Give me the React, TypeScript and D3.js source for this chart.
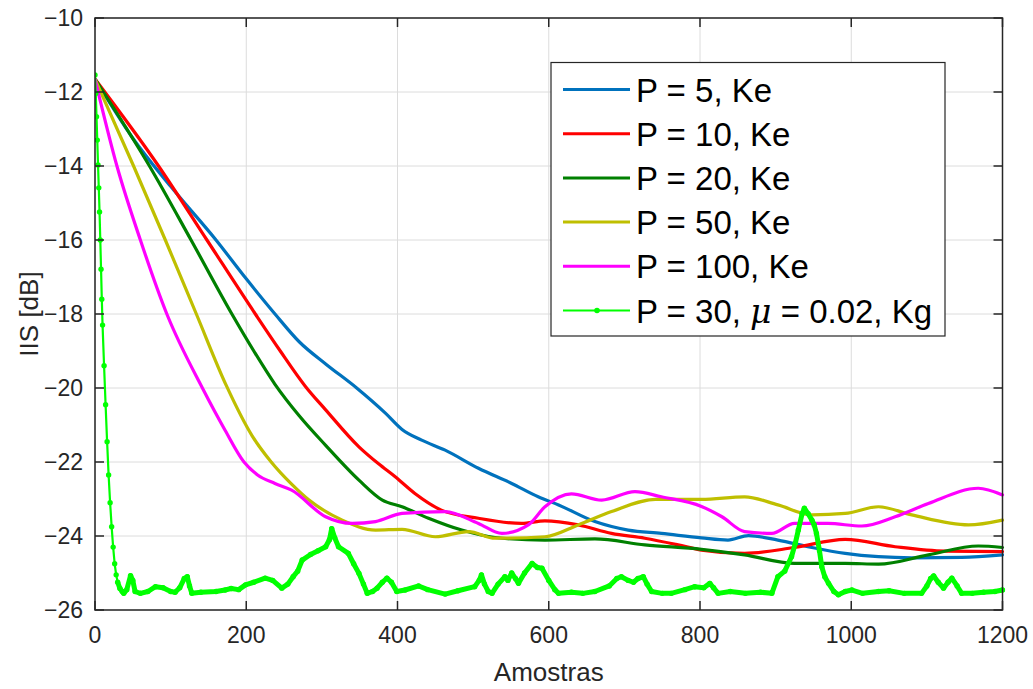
import React from "react";
import * as d3 from "d3";

// ---------- data ----------
const xTicks = [0, 200, 400, 600, 800, 1000, 1200];
const yTicks = [-26, -24, -22, -20, -18, -16, -14, -12, -10];

const p5Ke: [number, number][] = [
  [0, -11.65], [50, -13.25], [100, -14.55], [160, -16], [200, -17.05], [238, -18], [270, -18.75],
  [305, -19.35], [346, -20], [384, -20.68], [406, -21.12], [432, -21.41], [463, -21.68], [507, -22.17],
  [551, -22.58], [586, -22.94], [613, -23.16], [661, -23.61], [705, -23.84], [749, -23.93], [802, -24.05],
  [837, -24.11], [864, -23.99], [903, -24.11], [948, -24.31], [992, -24.47], [1036, -24.56], [1080, -24.59],
  [1146, -24.58], [1200, -24.51],
];
const p10Ke: [number, number][] = [
  [0, -11.65], [84, -14], [148, -16], [212, -18], [245, -19], [278, -19.95], [305, -20.59],
  [349, -21.59], [375, -22.05], [397, -22.4], [423, -22.85], [458, -23.3], [507, -23.52],
  [564, -23.66], [595, -23.59], [639, -23.7], [683, -23.93], [727, -24.06], [771, -24.24], [802, -24.38],
  [859, -24.47], [925, -24.31], [992, -24.09], [1058, -24.29], [1124, -24.41], [1200, -24.42],
];
const p20Ke: [number, number][] = [
  [0, -11.65], [72, -14], [127, -16], [181, -18], [210, -19.0], [238, -19.9], [270, -20.75],
  [305, -21.55], [349, -22.49], [380, -23.03], [406, -23.21], [441, -23.52], [485, -23.84], [529, -24.04],
  [595, -24.11], [661, -24.08], [727, -24.24], [802, -24.36], [859, -24.51], [925, -24.74], [992, -24.74],
  [1036, -24.76], [1102, -24.51], [1168, -24.27], [1200, -24.31],
];
const p50Ke: [number, number][] = [
  [0, -11.65], [51, -14], [93, -16], [134, -18], [174, -19.95], [208, -21.3], [233, -22], [260, -22.6],
  [283, -23.03], [327, -23.57], [371, -23.84], [406, -23.82], [450, -24.02], [494, -23.88], [529, -24.06],
  [595, -24.02], [639, -23.7], [683, -23.34], [741, -23.01], [802, -23.01], [859, -22.94], [903, -23.16],
  [948, -23.43], [992, -23.39], [1036, -23.21], [1080, -23.43], [1155, -23.7], [1200, -23.57],
];
const p100Ke: [number, number][] = [
  [0, -11.65], [29, -14], [60, -16], [95, -18], [142, -20], [172, -21.14], [197, -22],
  [215, -22.35], [238, -22.58], [260, -22.76], [305, -23.48], [340, -23.66], [371, -23.61], [406, -23.39],
  [463, -23.34], [507, -23.66], [538, -23.93], [573, -23.7], [595, -23.21], [630, -22.86], [670, -23.03],
  [714, -22.8], [749, -22.94], [802, -23.2], [829, -23.48], [859, -23.88], [895, -23.93], [925, -23.66],
  [969, -23.66], [1014, -23.73], [1058, -23.48], [1102, -23.12], [1168, -22.71], [1200, -22.89],
];
const p30Kg: [number, number][] = [
  [0, -11.54], [1, -12.04], [2, -12.67], [3, -13.3], [4, -13.97], [5, -14.59], [6, -15.24], [7, -16.0],
  [8, -16.79], [9, -17.6], [10, -18.3], [12, -19.4], [14, -20.45], [16, -21.45], [18, -22.35], [20, -23.1],
  [22, -23.75], [24, -24.3], [26, -24.75], [28, -25.05], [30, -25.25], [33, -25.42], [36, -25.5],
  [38, -25.55], [42, -25.45], [47, -25.07], [50, -25.2], [53, -25.5], [60, -25.55], [70, -25.5],
  [80, -25.37], [90, -25.4], [100, -25.5], [106, -25.52], [112, -25.4], [118, -25.15], [122, -25.1],
  [125, -25.35], [128, -25.55], [140, -25.52], [160, -25.5], [172, -25.46], [180, -25.42], [190, -25.45],
  [199, -25.32], [210, -25.25], [225, -25.14], [235, -25.2], [247, -25.41], [255, -25.3], [262, -25.1],
  [268, -24.95], [274, -24.65], [285, -24.5], [295, -24.4], [305, -24.29], [310, -24.1], [313, -23.8],
  [317, -24.05], [322, -24.29], [335, -24.47], [342, -24.75], [349, -25.01], [355, -25.3], [360, -25.55],
  [367, -25.5], [373, -25.41], [380, -25.25], [386, -25.14], [392, -25.25], [399, -25.5], [410, -25.46],
  [428, -25.35], [440, -25.45], [463, -25.57], [480, -25.48], [502, -25.37], [508, -25.2], [511, -25.05],
  [515, -25.3], [520, -25.5], [525, -25.55], [533, -25.3], [542, -25.1], [546, -25.2], [551, -25.0],
  [556, -25.15], [560, -25.28], [568, -25.0], [578, -24.74], [585, -24.85], [591, -24.87], [600, -25.2],
  [608, -25.45], [613, -25.55], [630, -25.52], [645, -25.55], [661, -25.5], [680, -25.35], [690, -25.15],
  [696, -25.1], [705, -25.2], [712, -25.25], [718, -25.15], [725, -25.1], [730, -25.3], [736, -25.5],
  [750, -25.55], [762, -25.55], [780, -25.45], [793, -25.37], [805, -25.4], [813, -25.28], [818, -25.4],
  [824, -25.55], [840, -25.5], [860, -25.55], [880, -25.52], [895, -25.55], [903, -25.1], [912, -24.95],
  [921, -24.56], [926, -24.2], [930, -23.84], [935, -23.4], [938, -23.25], [943, -23.4], [948, -23.57],
  [951, -23.7], [954, -23.93], [958, -24.4], [961, -24.83], [965, -25.1], [970, -25.28], [977, -25.5],
  [983, -25.59], [992, -25.5], [1001, -25.46], [1015, -25.55], [1036, -25.5], [1050, -25.48], [1070, -25.55],
  [1093, -25.55], [1100, -25.35], [1105, -25.15], [1109, -25.08], [1115, -25.25], [1122, -25.41],
  [1128, -25.25], [1133, -25.14], [1140, -25.35], [1146, -25.55], [1160, -25.55], [1175, -25.52],
  [1190, -25.5], [1200, -25.46],
];

const seriesKe = [
  { name: "P = 5, Ke", data: p5Ke, color: "#0072BD" },
  { name: "P = 10, Ke", data: p10Ke, color: "#FF0000" },
  { name: "P = 20, Ke", data: p20Ke, color: "#008000" },
  { name: "P = 50, Ke", data: p50Ke, color: "#BFBF00" },
  { name: "P = 100, Ke", data: p100Ke, color: "#FF00FF" },
];
const kgColor = "#00FF00";

// ---------- layout ----------
const W = 1033, H = 689;
const L = 95, R = 1002.5, T = 18, B = 610;
const FONT = "Arial, 'Liberation Sans', Helvetica, sans-serif";
const AX = "#262626";

export default function App() {
  const x = d3.scaleLinear().domain([0, 1200]).range([L, R]);
  const y = d3.scaleLinear().domain([-26, -10]).range([B, T]);
  const smooth = d3.line<[number, number]>().x(d => x(d[0])).y(d => y(d[1])).curve(d3.curveMonotoneX);
  const straight = d3.line<[number, number]>().x(d => x(d[0])).y(d => y(d[1]));
  const tickLen = 9;

  const legX = 551, legY = 62.5, legW = 394, legH = 273.5;
  const rowY = (i: number) => 89.5 + i * 44.2;

  return (
    <svg width={W} height={H} style={{ position: "absolute", left: 0, top: 0, background: "#fff" }}
      fontFamily={FONT}>
      <rect x={0} y={0} width={W} height={H} fill="#fff" />
      <defs>
        <clipPath id="plotclip">
          <rect x={L} y={T - 3} width={R - L + 3} height={B - T + 6} />
        </clipPath>
      </defs>
      {/* grid */}
      {xTicks.map(t => (
        <line key={"gx" + t} x1={x(t)} x2={x(t)} y1={T} y2={B} stroke="#dcdcdc" strokeWidth={1} />
      ))}
      {yTicks.map(t => (
        <line key={"gy" + t} x1={L} x2={R} y1={y(t)} y2={y(t)} stroke="#dcdcdc" strokeWidth={1} />
      ))}
      {/* series */}
      <g clipPath="url(#plotclip)">
        {seriesKe.map(s => (
          <path key={s.name} d={smooth(s.data) || ""} fill="none" stroke={s.color} strokeWidth={3.2}
            strokeLinejoin="round" strokeLinecap="round" />
        ))}
        <path d={straight(p30Kg) || ""} fill="none" stroke={kgColor} strokeWidth={2.2} strokeLinejoin="round" />
        <path d={straight(p30Kg.filter(d => d[0] >= 30)) || ""} fill="none" stroke={kgColor} strokeWidth={5}
          strokeLinejoin="round" strokeLinecap="round" />
        {p30Kg.map((d, i) => (
          <circle key={"m" + i} cx={x(d[0])} cy={y(d[1])} r={2.7} fill={kgColor} />
        ))}
      </g>
      {/* axes box */}
      <rect x={L} y={T} width={R - L} height={B - T} fill="none" stroke={AX} strokeWidth={1.5} />
      {xTicks.map(t => (
        <g key={"tx" + t}>
          <line x1={x(t)} x2={x(t)} y1={B} y2={B - tickLen} stroke={AX} strokeWidth={1.5} />
          <line x1={x(t)} x2={x(t)} y1={T} y2={T + tickLen} stroke={AX} strokeWidth={1.5} />
          <text x={x(t)} y={B + 33} textAnchor="middle" fontSize={23} fill={AX}>{t}</text>
        </g>
      ))}
      {yTicks.map(t => (
        <g key={"ty" + t}>
          <line x1={L} x2={L + tickLen} y1={y(t)} y2={y(t)} stroke={AX} strokeWidth={1.5} />
          <line x1={R} x2={R - tickLen} y1={y(t)} y2={y(t)} stroke={AX} strokeWidth={1.5} />
          <text x={L - 12} y={y(t) + 8} textAnchor="end" fontSize={23} fill={AX}>
            {t < 0 ? "\u2212" + Math.abs(t) : String(t)}
          </text>
        </g>
      ))}
      {/* axis labels */}
      <text x={(L + R) / 2} y={681} textAnchor="middle" fontSize={26} fill={AX}>Amostras</text>
      <text transform={`translate(38, ${(T + B) / 2}) rotate(-90)`} textAnchor="middle" fontSize={26} fill={AX}>
        IIS [dB]
      </text>
      {/* legend */}
      <rect x={legX} y={legY} width={legW} height={legH} fill="#fff" stroke={AX} strokeWidth={1.2} />
      {seriesKe.map((s, i) => (
        <g key={"lg" + i}>
          <line x1={563} x2={630} y1={rowY(i)} y2={rowY(i)} stroke={s.color} strokeWidth={3} />
          <text x={636} y={rowY(i) + 12} fontSize={33} fill="#000">{s.name}</text>
        </g>
      ))}
      <g>
        <line x1={563} x2={630} y1={rowY(5)} y2={rowY(5)} stroke={kgColor} strokeWidth={2.2} />
        <circle cx={597} cy={rowY(5)} r={2.8} fill={kgColor} />
        <text x={636} y={rowY(5) + 12} fontSize={33} fill="#000">
          P = 30, <tspan fontStyle="italic" fontFamily="'DejaVu Serif', 'Liberation Serif', serif">μ</tspan> = 0.02, Kg
        </text>
      </g>
    </svg>
  );
}
